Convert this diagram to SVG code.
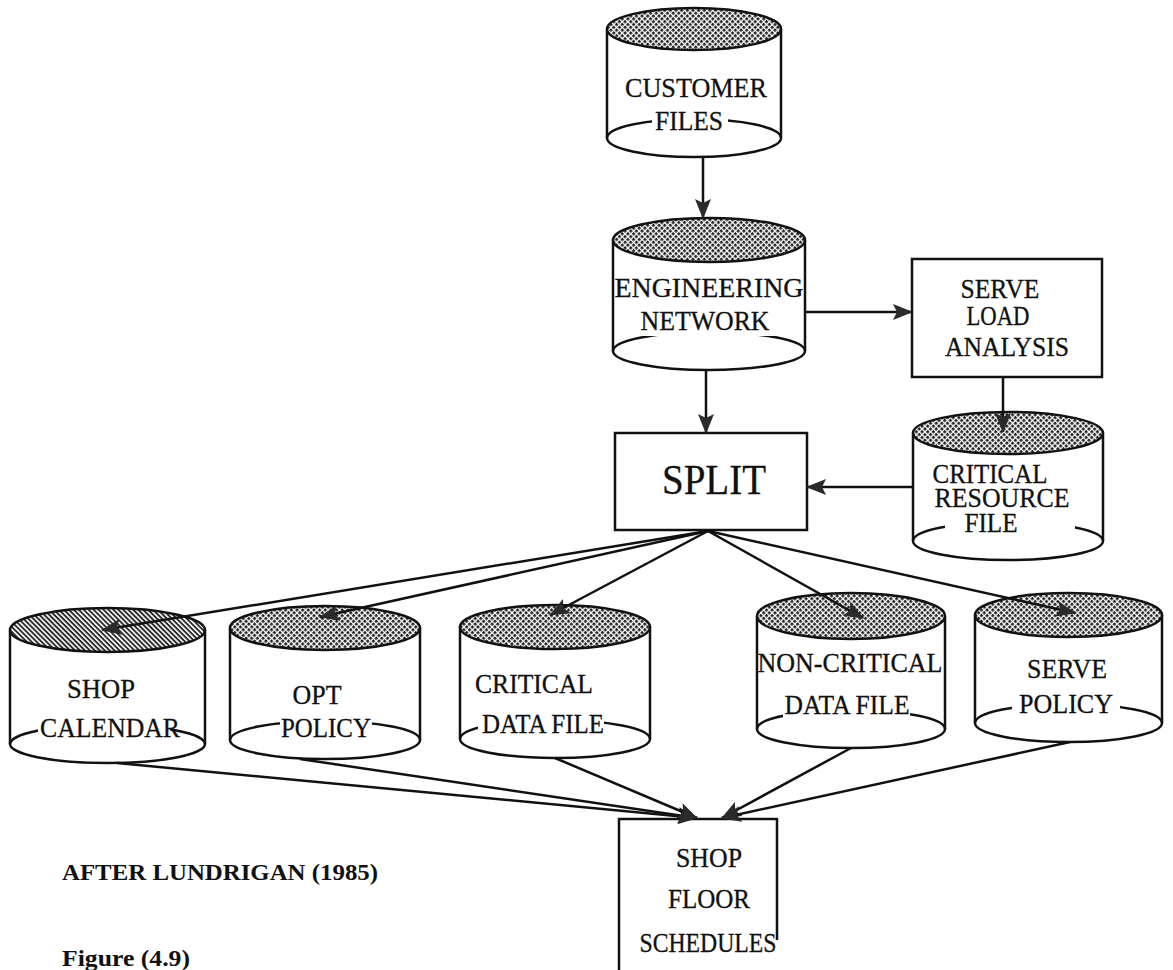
<svg xmlns="http://www.w3.org/2000/svg" width="1173" height="970" viewBox="0 0 1173 970">
  <style>
    .body { fill: #fff; stroke: #111; stroke-width: 2.5; }
    .back { fill: none; stroke: #111; stroke-width: 2.5; }
    .lid { fill: url(#xhatch); stroke: #111; stroke-width: 2.5; }
    .lid2 { fill: url(#dhatch); stroke: #111; stroke-width: 2.5; }
    .box { fill: #fff; stroke: #111; stroke-width: 2.5; }
    .mask { fill: #fff; stroke: none; }
    .lbl { font-family: "Liberation Serif", "Times New Roman", serif; font-size: 27px; fill: #111; stroke: #111; stroke-width: 0.3; text-anchor: middle; }
    .big { font-size: 42px; }
    .cap { font-family: "Liberation Serif", "Times New Roman", serif; font-size: 24px; font-weight: bold; fill: #111; }
    .conn line { stroke: #111; stroke-width: 2.5; marker-end: url(#head); }
    .plain { stroke: #111; stroke-width: 2.5; }
  </style>
  <defs>
    <pattern id="xhatch" width="4" height="4" patternUnits="userSpaceOnUse" patternTransform="rotate(45)">
      <rect width="4" height="4" fill="#fff"/>
      <rect width="2.7" height="2.7" fill="#1e1e1e"/>
    </pattern>
    <pattern id="dhatch" width="3.5" height="3.5" patternUnits="userSpaceOnUse" patternTransform="rotate(45)">
      <rect width="3.5" height="3.5" fill="#fff"/>
      <rect width="3.5" height="1.9" fill="#2a2a2a"/>
    </pattern>
    <marker id="head" markerWidth="20" markerHeight="16" refX="19" refY="8" orient="auto" markerUnits="userSpaceOnUse">
      <path d="M0,0 L20,8 L0,16 L4,8 Z" fill="#2a2a2a"/>
    </marker>
  </defs>
  <rect width="1173" height="970" fill="#fff"/>

  <!-- customer files -->
  <g id="customer-files">
    <path class="body" d="M607,29 L607,138 A87,19 0 0 0 781,138 L781,29"/>
    <path class="back" d="M607,138 A87,19 0 0 1 781,138"/>
    <rect class="mask" x="652" y="108" width="76" height="26"/>
    <ellipse class="lid" cx="694" cy="29" rx="87" ry="21"/>
    <text class="lbl" x="696" y="97" font-size="29" textLength="142" lengthAdjust="spacingAndGlyphs">CUSTOMER</text>
    <text class="lbl" x="689" y="130" font-size="29" textLength="68" lengthAdjust="spacingAndGlyphs">FILES</text>
  </g>

  <!-- engineering network -->
  <g id="engineering-network">
    <path class="body" d="M613,240 L613,351 A96,19 0 0 0 805,351 L805,240"/>
    <path class="back" d="M613,351 A96,19 0 0 1 805,351"/>
    <rect class="mask" x="637" y="308" width="140" height="28"/>
    <ellipse class="lid" cx="709" cy="240" rx="96" ry="22"/>
    <text class="lbl" x="709" y="297" font-size="29" textLength="189" lengthAdjust="spacingAndGlyphs">ENGINEERING</text>
    <text class="lbl" x="705" y="330" font-size="29" textLength="129" lengthAdjust="spacingAndGlyphs">NETWORK</text>
  </g>

  <!-- serve load analysis -->
  <g id="serve-load-analysis">
    <rect class="box" x="912" y="259" width="190" height="118"/>
    <text class="lbl" x="1000" y="298" font-size="26" textLength="79" lengthAdjust="spacingAndGlyphs">SERVE</text>
    <text class="lbl" x="998" y="325" font-size="26" textLength="63" lengthAdjust="spacingAndGlyphs">LOAD</text>
    <text class="lbl" x="1007" y="356" font-size="26" textLength="124" lengthAdjust="spacingAndGlyphs">ANALYSIS</text>
  </g>

  <!-- split -->
  <g id="split">
    <rect class="box" x="615" y="433" width="192" height="97"/>
    <text class="lbl big" x="714" y="494" textLength="104" lengthAdjust="spacingAndGlyphs">SPLIT</text>
  </g>

  <!-- critical resource file -->
  <g id="critical-resource-file">
    <path class="body" d="M913,433 L913,541 A95,19 0 0 0 1103,541 L1103,433"/>
    <path class="back" d="M913,541 A95,19 0 0 1 1103,541"/>
    <rect class="mask" x="945" y="510" width="130" height="26"/>
    <ellipse class="lid" cx="1008" cy="433" rx="95" ry="21"/>
    <text class="lbl" x="990" y="483" font-size="25" textLength="115" lengthAdjust="spacingAndGlyphs">CRITICAL</text>
    <text class="lbl" x="1002" y="507" font-size="25" textLength="135" lengthAdjust="spacingAndGlyphs">RESOURCE</text>
    <text class="lbl" x="991" y="532" font-size="25" textLength="53" lengthAdjust="spacingAndGlyphs">FILE</text>
  </g>

  <!-- shop calendar -->
  <g id="shop-calendar">
    <path class="body" d="M10,630 L10,744 A97.5,19 0 0 0 205,744 L205,630"/>
    <path class="back" d="M10,744 A97.5,19 0 0 1 205,744"/>
    <rect class="mask" x="38" y="710" width="132" height="31"/>
    <ellipse class="lid2" cx="107.5" cy="630" rx="97.5" ry="22"/>
    <text class="lbl" x="101" y="698" textLength="68" lengthAdjust="spacingAndGlyphs">SHOP</text>
    <text class="lbl" x="110" y="737" textLength="140" lengthAdjust="spacingAndGlyphs">CALENDAR</text>
  </g>

  <!-- opt policy -->
  <g id="opt-policy">
    <path class="body" d="M230,628 L230,740 A95,19 0 0 0 420,740 L420,628"/>
    <path class="back" d="M230,740 A95,19 0 0 1 420,740"/>
    <rect class="mask" x="280" y="710" width="92" height="31"/>
    <ellipse class="lid" cx="325" cy="628" rx="95" ry="22"/>
    <text class="lbl" x="317" y="704" textLength="49" lengthAdjust="spacingAndGlyphs">OPT</text>
    <text class="lbl" x="326" y="737" textLength="90" lengthAdjust="spacingAndGlyphs">POLICY</text>
  </g>

  <!-- critical data file -->
  <g id="critical-data-file">
    <path class="body" d="M460,627 L460,739 A95,19 0 0 0 650,739 L650,627"/>
    <path class="back" d="M460,739 A95,19 0 0 1 650,739"/>
    <rect class="mask" x="478" y="710" width="126" height="28"/>
    <ellipse class="lid" cx="555" cy="627" rx="95" ry="22"/>
    <text class="lbl" x="534" y="693" textLength="118" lengthAdjust="spacingAndGlyphs">CRITICAL</text>
    <text class="lbl" x="543" y="733" textLength="122" lengthAdjust="spacingAndGlyphs">DATA FILE</text>
  </g>

  <!-- non-critical data file -->
  <g id="non-critical-data-file">
    <path class="body" d="M757,616 L757,729 A94,19 0 0 0 945,729 L945,616"/>
    <path class="back" d="M757,729 A94,19 0 0 1 945,729"/>
    <rect class="mask" x="783" y="690" width="127" height="28"/>
    <ellipse class="lid" cx="851" cy="616" rx="94" ry="23"/>
    <text class="lbl" x="850" y="672" textLength="185" lengthAdjust="spacingAndGlyphs">NON-CRITICAL</text>
    <text class="lbl" x="847" y="714" textLength="125" lengthAdjust="spacingAndGlyphs">DATA FILE</text>
  </g>

  <!-- serve policy -->
  <g id="serve-policy">
    <path class="body" d="M975,615 L975,723 A93.5,19 0 0 0 1162,723 L1162,615"/>
    <path class="back" d="M975,723 A93.5,19 0 0 1 1162,723"/>
    <rect class="mask" x="1012" y="688" width="108" height="28"/>
    <ellipse class="lid" cx="1068.5" cy="615" rx="93.5" ry="22"/>
    <text class="lbl" x="1067" y="678" textLength="80" lengthAdjust="spacingAndGlyphs">SERVE</text>
    <text class="lbl" x="1066" y="713" textLength="94" lengthAdjust="spacingAndGlyphs">POLICY</text>
  </g>

  <!-- shop floor schedules (box runs off the bottom edge) -->
  <g id="shop-floor-schedules">
    <path class="plain" fill="#fff" d="M619,976 L619,819 L777,819 L777,940"/>
    <text class="lbl" x="709" y="867" textLength="66" lengthAdjust="spacingAndGlyphs">SHOP</text>
    <text class="lbl" x="709" y="908" textLength="82" lengthAdjust="spacingAndGlyphs">FLOOR</text>
    <text class="lbl" x="708" y="952" textLength="137" lengthAdjust="spacingAndGlyphs">SCHEDULES</text>
  </g>

  <!-- captions -->
  <g id="captions">
    <text class="cap" x="62" y="880" textLength="316" lengthAdjust="spacingAndGlyphs">AFTER LUNDRIGAN (1985)</text>
    <text class="cap" x="62" y="966" textLength="128" lengthAdjust="spacingAndGlyphs">Figure (4.9)</text>
  </g>

  <!-- connectors -->
  <g id="connectors" class="conn">
    <line x1="703" y1="158" x2="703" y2="218"/>
    <line x1="806" y1="312" x2="912" y2="312"/>
    <line x1="706" y1="370" x2="706" y2="433"/>
    <line x1="1003" y1="377" x2="1003" y2="432"/>
    <line x1="913" y1="487" x2="807" y2="487"/>
    <line x1="708" y1="531" x2="102" y2="630"/>
    <line x1="708" y1="531" x2="320" y2="617"/>
    <line x1="708" y1="531" x2="550" y2="615"/>
    <line x1="708" y1="531" x2="863" y2="618"/>
    <line x1="708" y1="531" x2="1075" y2="613"/>
    <line x1="117" y1="763" x2="697" y2="818"/>
    <line x1="300" y1="759" x2="697" y2="818"/>
    <line x1="555" y1="758" x2="697" y2="818"/>
    <line x1="851" y1="748" x2="722" y2="818"/>
    <line x1="1070" y1="742" x2="722" y2="818"/>
  </g>
</svg>
